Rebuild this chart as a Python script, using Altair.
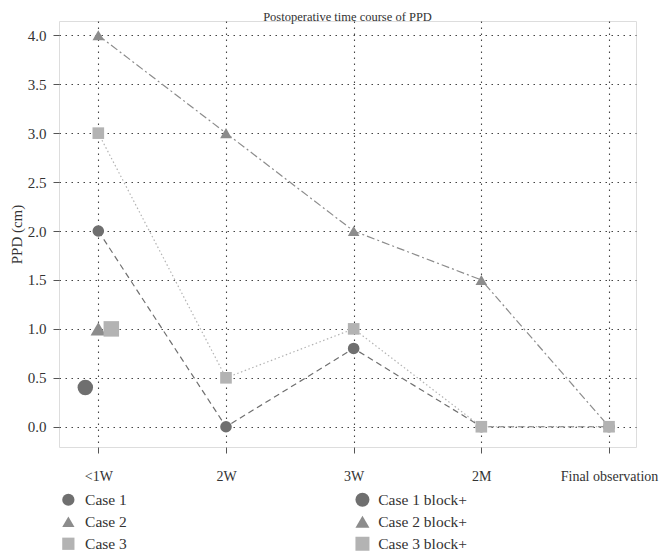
import altair as alt
import pandas as pd

# ---------------- data ----------------
categories = ["<1W", "2W", "3W", "2M", "Final observation"]
series_names = ["Case 1", "Case 2", "Case 3"]
case1 = [2.0, 0.0, 0.8, 0.0, 0.0]
case2 = [4.0, 3.0, 2.0, 1.5, 0.0]
case3 = [3.0, 0.5, 1.0, 0.0, 0.0]

block_names = ["Case 1 block+", "Case 2 block+", "Case 3 block+"]
block_time = ["<1W", "<1W", "<1W"]
block_values = [0.4, 1.0, 1.0]

y_ticks = [0.0, 0.5, 1.0, 1.5, 2.0, 2.5, 3.0, 3.5, 4.0]

# ---------------- styles ----------------
colors = ["#6f6f6f", "#8c8c8c", "#b3b3b3"]
shapes = ["circle", "triangle-up", "square"]
dashes = [[6, 4], [8, 3, 2, 3], [1.5, 2.5]]
block_dx = [-13, 0, 13]
FONT = "Liberation Serif"
TXT = "#333333"

rows = []
for name, vals in zip(series_names, [case1, case2, case3]):
    for c, v in zip(categories, vals):
        rows.append({"time": c, "ppd": v, "series": name})
df = pd.DataFrame(rows)
bdf = pd.DataFrame({"time": block_time, "ppd": block_values, "block": block_names})

grid_kw = dict(grid=True, gridColor="#444444", gridDash=[1.5, 4.5], gridWidth=1.1)

x_enc = alt.X(
    "time:O",
    sort=categories,
    scale=alt.Scale(type="point", padding=0.2596, align=0.593),
    axis=alt.Axis(
        title=None, labelAngle=0, domain=False, ticks=True, tickSize=6,
        tickColor="#555555", labelPadding=16, labelFont=FONT, labelFontSize=14,
        labelColor=TXT, **grid_kw
    ),
)
y_enc = alt.Y(
    "ppd:Q",
    scale=alt.Scale(domain=[-0.207, 4.146], nice=False, zero=False),
    axis=alt.Axis(
        title="PPD (cm)", values=y_ticks, format=".1f", domain=False,
        tickSize=6, tickColor="#555555", labelPadding=7, labelFont=FONT,
        labelFontSize=15, labelColor=TXT, titleFont=FONT, titleFontSize=15,
        titleFontWeight="normal", titleColor=TXT, titlePadding=3, **grid_kw
    ),
)

base = alt.Chart(df)

lines = base.mark_line(strokeWidth=1.2).encode(
    x=x_enc,
    y=y_enc,
    stroke=alt.Stroke("series:N", scale=alt.Scale(domain=series_names, range=colors), legend=None),
    strokeDash=alt.StrokeDash("series:N", scale=alt.Scale(domain=series_names, range=dashes), legend=None),
    detail="series:N",
)

legend_common = dict(
    title=None, orient="none", direction="vertical", labelFont=FONT,
    labelFontSize=15.5, labelColor=TXT, rowPadding=5, padding=0,
    symbolStrokeWidth=0, labelLimit=300,
)

points = base.mark_point(filled=True, size=135, opacity=1).encode(
    x=x_enc,
    y=y_enc,
    color=alt.Color(
        "series:N",
        scale=alt.Scale(domain=series_names, range=colors),
        legend=alt.Legend(legendX=1.6, legendY=471, symbolSize=150, labelOffset=9, **legend_common),
    ),
    shape=alt.Shape(
        "series:N",
        scale=alt.Scale(domain=series_names, range=shapes),
        legend=alt.Legend(legendX=1.6, legendY=471, symbolSize=150, labelOffset=9, **legend_common),
    ),
)

main = alt.layer(lines, points)

block_layers = []
for i, bname in enumerate(block_names):
    block_layers.append(
        alt.Chart(bdf)
        .transform_filter(alt.datum.block == bname)
        .mark_point(filled=True, size=240, opacity=1)
        .encode(
            x=x_enc,
            xOffset=alt.value(block_dx[i]),
            y=y_enc,
            color=alt.Color(
                "block:N",
                scale=alt.Scale(domain=block_names, range=colors),
                legend=alt.Legend(legendX=295.7, legendY=471, symbolSize=196, labelOffset=8, **legend_common),
            ),
            shape=alt.Shape(
                "block:N",
                scale=alt.Scale(domain=block_names, range=shapes),
                legend=alt.Legend(legendX=295.7, legendY=471, symbolSize=196, labelOffset=8, **legend_common),
            ),
        )
    )
blocks = alt.layer(*block_layers)

chart = (
    alt.layer(main, blocks)
    .resolve_scale(color="independent", shape="independent")
    .properties(
        width=577,
        height=426,
        autosize=alt.AutoSizeParams(type="none"),
        padding={"left": 51, "top": 13, "right": 23, "bottom": 105},
        title=alt.TitleParams(
            "Postoperative time course of PPD", font=FONT, fontSize=12.5,
            fontWeight="normal", color=TXT, baseline="alphabetic", offset=2,
            anchor="middle", dy=14,
        ),
    )
    .configure_view(stroke="#444444", strokeWidth=1.3)
    .configure(background="white")
)

chart.save("out.html", embed_options={"renderer": "svg", "actions": False})
